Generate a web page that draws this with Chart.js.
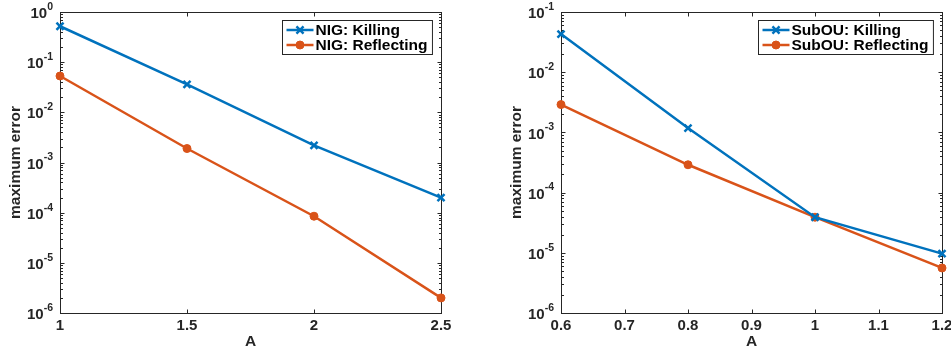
<!DOCTYPE html>
<html>
<head>
<meta charset="utf-8">
<script src="https://cdn.jsdelivr.net/npm/chart.js@4.4.1/dist/chart.umd.min.js"></script>
<style>
html, body { margin: 0; padding: 0; background: #fff; width: 951px; height: 351px; overflow: hidden; }
.panel { position: absolute; top: 0; width: 480px; height: 351px; }
</style>
</head>
<body>
<div class="panel" style="left:0"><canvas id="nigChart" width="480" height="351"></canvas></div>
<div class="panel" style="left:480px"><canvas id="subouChart" width="480" height="351"></canvas></div>
<script>
// NIG panel
const nigA = [1, 1.5, 2, 2.5];
const nigKilling = [0.52, 0.036, 0.0022, 0.0002];
const nigReflecting = [0.053, 0.0019, 0.000085, 0.000002];
const nigXTicks = [1, 1.5, 2, 2.5];
const nigYExponents = [0, -1, -2, -3, -4, -5, -6];

// SubOU panel
const subA = [0.6, 0.8, 1, 1.2];
const subKilling = [0.043, 0.00118, 0.000039, 0.0000097];
const subReflecting = [0.0029, 0.00029, 0.000039, 0.0000056];
const subXTicks = [0.6, 0.7, 0.8, 0.9, 1, 1.1, 1.2];
const subYExponents = [-1, -2, -3, -4, -5, -6];

const BLUE = '#0072BD';
const ORANGE = '#D95319';
const AXIS = '#262626';
const FONT = '"Liberation Sans", Arial, Helvetica, sans-serif';

// MATLAB-like box, inward ticks and 10^n labels
const matlabFrame = {
    id: 'matlabFrame',
    beforeDatasetsDraw(chart, args, opts) {
        const ctx = chart.ctx;
        const a = chart.chartArea;
        const xs = chart.scales.x, ys = chart.scales.y;
        const L = Math.round(a.left) + 0.5, R = Math.round(a.right) + 0.5;
        const T = Math.round(a.top) + 0.5, B = Math.round(a.bottom) + 0.5;
        ctx.save();
        ctx.strokeStyle = AXIS;
        ctx.lineWidth = 1;
        ctx.strokeRect(L, T, R - L, B - T);
        ctx.beginPath();
        opts.xTicks.forEach(v => {
            const px = Math.round(xs.getPixelForValue(v)) + 0.5;
            ctx.moveTo(px, B); ctx.lineTo(px, B - 4);
            ctx.moveTo(px, T); ctx.lineTo(px, T + 4);
        });
        opts.yExponents.forEach(e => {
            const py = Math.round(ys.getPixelForValue(Math.pow(10, e))) + 0.5;
            ctx.moveTo(L, py); ctx.lineTo(L + 4, py);
            ctx.moveTo(R, py); ctx.lineTo(R - 4, py);
        });
        const lo = Math.min(...opts.yExponents), hi = Math.max(...opts.yExponents);
        for (let e = lo; e < hi; e++) {
            for (let k = 2; k <= 9; k++) {
                const py = Math.round(ys.getPixelForValue(k * Math.pow(10, e))) + 0.5;
                ctx.moveTo(L, py); ctx.lineTo(L + 2.5, py);
                ctx.moveTo(R, py); ctx.lineTo(R - 2.5, py);
            }
        }
        ctx.stroke();

        // y tick labels with superscript exponent
        ctx.fillStyle = AXIS;
        ctx.textBaseline = 'middle';
        ctx.textAlign = 'left';
        opts.yExponents.forEach(e => {
            const py = ys.getPixelForValue(Math.pow(10, e));
            const exp = String(e);
            ctx.font = 'bold 10.5px ' + FONT;
            const w2 = ctx.measureText(exp).width;
            ctx.font = 'bold 15px ' + FONT;
            const w1 = ctx.measureText('10').width;
            const right = a.left - 7;
            ctx.fillText('10', right - w2 - w1, py + 2);
            ctx.font = 'bold 10.5px ' + FONT;
            ctx.fillText(exp, right - w2, py - 5);
        });
        ctx.restore();
    },
    afterDatasetsDraw(chart, args, opts) {
        const ctx = chart.ctx;
        const a = chart.chartArea;
        const sets = chart.data.datasets;
        ctx.save();
        ctx.font = 'bold 15.5px ' + FONT;
        const tw = Math.max(...sets.map(d => ctx.measureText(d.label).width));
        const w = 34 + tw + 4, h = 34;
        const x0 = Math.round(a.right - 9 - w) + 0.5, y0 = Math.round(a.top + 8) + 0.5;
        ctx.fillStyle = '#fff';
        ctx.fillRect(x0, y0, w, h);
        ctx.strokeStyle = AXIS;
        ctx.lineWidth = 1;
        ctx.strokeRect(x0, y0, w, h);
        sets.forEach((d, i) => {
            const cy = y0 + 9.5 + i * 15;
            ctx.strokeStyle = d.borderColor;
            ctx.lineWidth = 2.5;
            ctx.beginPath();
            ctx.moveTo(x0 + 4, cy); ctx.lineTo(x0 + 31, cy);
            ctx.stroke();
            ctx.fillStyle = d.borderColor;
            ctx.strokeStyle = d.borderColor;
            ctx.lineWidth = d.pointBorderWidth;
            ctx.beginPath();
            Chart.helpers.drawPoint(ctx, {
                pointStyle: d.pointStyle, radius: d.pointRadius, borderWidth: d.pointBorderWidth
            }, x0 + 17.5, cy);
            ctx.fillStyle = '#000';
            ctx.textBaseline = 'middle';
            ctx.textAlign = 'left';
            ctx.fillText(d.label, x0 + 33, cy + 1);
        });
        ctx.restore();
    }
};

function series(label, xs, ys, color, style) {
    return {
        label: label,
        data: xs.map((x, i) => ({ x: x, y: ys[i] })),
        borderColor: color,
        backgroundColor: color,
        borderWidth: 2.5,
        pointStyle: style,
        pointRadius: style === 'circle' ? 4 : 5,
        pointBorderWidth: style === 'circle' ? 1 : 2.5,
        pointBackgroundColor: color,
        pointBorderColor: color,
        tension: 0,
        clip: false
    };
}

function makeChart(id, datasets, xMin, xMax, xTicks, yExponents, padding) {
    new Chart(document.getElementById(id), {
        type: 'line',
        data: { datasets: datasets },
        options: {
            responsive: false,
            animation: false,
            devicePixelRatio: 1,
            layout: { padding: padding },
            plugins: {
                legend: { display: false },
                tooltip: { enabled: false },
                matlabFrame: { xTicks: xTicks, yExponents: yExponents }
            },
            scales: {
                x: {
                    type: 'linear',
                    min: xMin,
                    max: xMax,
                    afterBuildTicks: s => { s.ticks = xTicks.map(v => ({ value: v })); },
                    afterFit: s => { s.height = 38; },
                    grid: { display: false, drawTicks: false },
                    border: { display: false },
                    ticks: {
                        color: AXIS,
                        padding: 4,
                        maxRotation: 0,
                        autoSkip: false,
                        font: { family: FONT, size: 15, weight: 'bold' },
                        callback: v => String(v)
                    },
                    title: {
                        display: true,
                        text: 'A',
                        color: AXIS,
                        padding: { top: 0, bottom: 0 },
                        font: { family: FONT, size: 15.5, weight: 'bold' }
                    }
                },
                y: {
                    type: 'logarithmic',
                    min: Math.pow(10, Math.min(...yExponents)),
                    max: Math.pow(10, Math.max(...yExponents)),
                    afterBuildTicks: s => { s.ticks = yExponents.map(e => ({ value: Math.pow(10, e) })); },
                    afterFit: s => { s.width = 60; },
                    grid: { display: false, drawTicks: false },
                    border: { display: false },
                    ticks: { display: false },
                    title: {
                        display: true,
                        text: 'maximum error',
                        color: AXIS,
                        padding: { top: 6, bottom: 0 },
                        font: { family: FONT, size: 15.5, weight: 'bold' }
                    }
                }
            }
        },
        plugins: [matlabFrame]
    });
}

makeChart('nigChart', [
    series('NIG: Killing', nigA, nigKilling, BLUE, 'crossRot'),
    series('NIG: Reflecting', nigA, nigReflecting, ORANGE, 'circle')
], 1, 2.5, nigXTicks, nigYExponents, { left: 0, right: 39, top: 12, bottom: 0 });

makeChart('subouChart', [
    series('SubOU: Killing', subA, subKilling, BLUE, 'crossRot'),
    series('SubOU: Reflecting', subA, subReflecting, ORANGE, 'circle')
], 0.6, 1.2, subXTicks, subYExponents, { left: 21, right: 18, top: 12, bottom: 0 });
</script>
</body>
</html>
